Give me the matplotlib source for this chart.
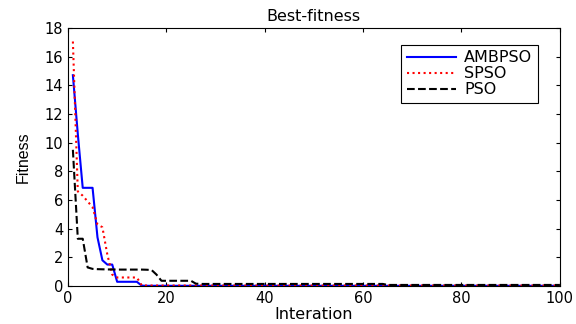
# Best-fitness curves: AMBPSO vs SPSO vs PSO
import numpy as np
import matplotlib.pyplot as plt

plt.rcParams['font.family'] = ['DejaVu Sans']

iteracion = np.arange(1, 101)

# valores (iteraciones 1..n, luego constante)
ambpso_ini = [14.7, 10.6, 6.85, 6.85, 6.85, 3.4, 1.8, 1.5, 1.5, 0.3,
              0.3, 0.3, 0.3, 0.3, 0.03]
ambpso_fin = 0.02

spso_ini = [17.05, 6.6, 6.3, 5.9, 5.5, 4.3, 4.1, 2.2, 0.8, 0.6,
            0.6, 0.6, 0.6, 0.6, 0.05]
spso_fin = 0.04

pso_ini = [9.5, 3.3, 3.3, 1.3, 1.2, 1.18, 1.17, 1.16, 1.16, 1.15,
           1.15, 1.15, 1.15, 1.15, 1.15, 1.14, 1.12, 0.8, 0.37, 0.37,
           0.37, 0.37, 0.37, 0.37, 0.37, 0.17]
pso_medio = 0.15   # hasta la iteracion 64
pso_fin = 0.08


def completar(ini, fin, n=100):
    y = list(ini) + [fin] * (n - len(ini))
    return np.array(y)


ambpso = completar(ambpso_ini, ambpso_fin)
spso = completar(spso_ini, spso_fin)
pso = completar(pso_ini + [pso_medio] * (64 - len(pso_ini)), pso_fin)

fig = plt.figure(figsize=(5.76, 3.24), dpi=100)
ax = fig.add_axes([0.118, 0.117, 0.854, 0.797])

ax.plot(iteracion, ambpso, color='#0000ff', lw=1.5, label='AMBPSO')
ax.plot(iteracion, spso, color='#ff0000', lw=1.5, ls=':', label='SPSO')
ax.plot(iteracion, pso, color='black', lw=1.5, ls='--', label='PSO')

ax.set_xlim(0, 100)
ax.set_ylim(0, 18)
ax.set_xticks(np.arange(0, 101, 20))
ax.set_yticks(np.arange(0, 19, 2))
ax.tick_params(direction='in', top=True, right=True, labelsize=10.5, length=3)
for s in ax.spines.values():
    s.set_linewidth(0.8)

ax.set_title('Best-fitness', fontsize=11.5, pad=5)
ax.set_xlabel('Interation', fontsize=11.5, labelpad=1)
ax.set_ylabel('Fitness', fontsize=11.5, labelpad=10, family='Liberation Sans')

leg = ax.legend(loc='upper right', bbox_to_anchor=(0.955, 0.934),
                borderaxespad=0, fancybox=False, framealpha=1,
                edgecolor='black', fontsize=11.5, handlelength=3.1,
                labelspacing=0.05, borderpad=0.35, handletextpad=0.5)
leg.get_frame().set_linewidth(0.8)

fig.savefig('out.png', dpi=100)
